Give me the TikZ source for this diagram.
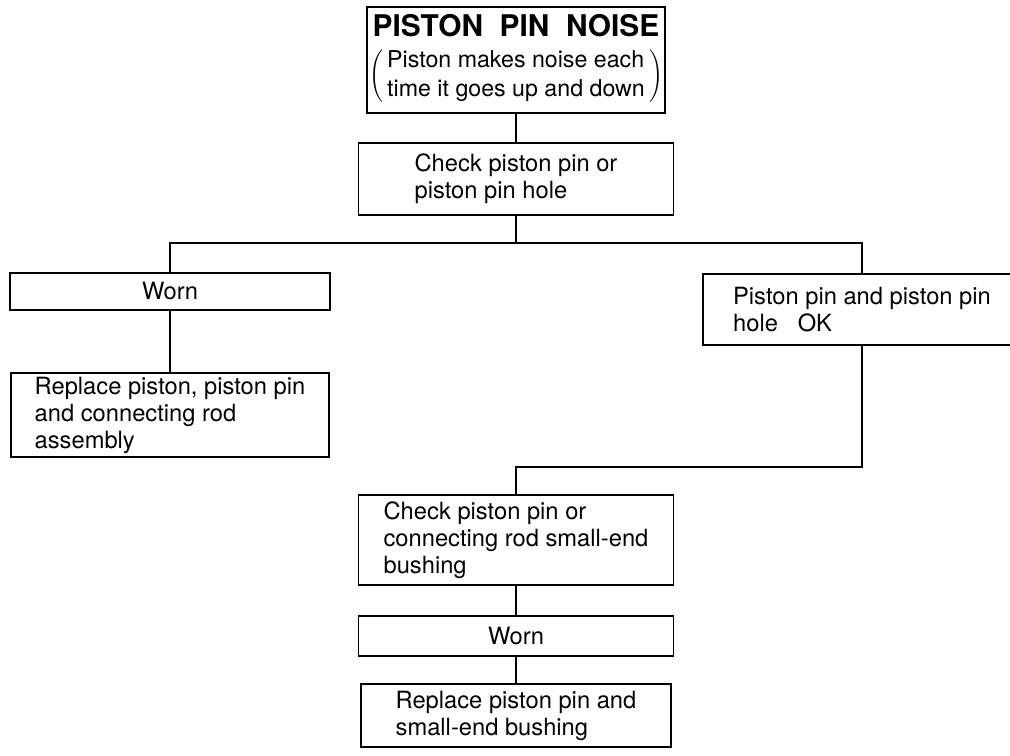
\documentclass[tikz,border=0pt]{standalone}
\usepackage{fontspec}
\setmainfont{TeX Gyre Heros}
\begin{document}
\begin{tikzpicture}[x=0.02cm, y=-0.02cm, line width=0.9pt,
    every node/.style={font=\fontsize{13.5}{15.4}\selectfont},
    box/.style={draw, align=left, inner sep=2pt, minimum width=#1},
    box/.default=6.3cm]
                    \useasboundingbox (0,0) rectangle (1010,755);

                    % Title
                    \node[draw, align=center, minimum width=5.96cm, minimum height=2.12cm, inner sep=0pt] (title) at (516,60)
                        {\textbf{\fontsize{17}{19}\selectfont PISTON\ \ PIN\ \ NOISE}\\[5pt]
                         $\left(\,\vcenter{\hbox{\fontsize{13.2}{16.5}\selectfont\begin{tabular}{@{}l@{}}Piston makes noise each\\ time it goes up and down\end{tabular}}}\,\right)$};

                    % First check
                    \node[box, minimum height=1.44cm] (check1) at (516,179) {Check piston pin or\\piston pin hole};

                    % Two branches
                    \node[box=6.4cm, align=center, minimum height=0.74cm] (worn1) at (170,291.5) {Worn};
                    \node[box=6.36cm, minimum height=1.68cm] (replace1) at (170,415) {Replace piston, piston pin\\and connecting rod\\assembly};
                    \node[box=6.36cm, minimum height=1.42cm] (okbox) at (862,309.5) {Piston pin and piston pin\\hole\ \ \ OK};

                    % Second check
                    \node[box, minimum height=1.8cm] (check2) at (516,540) {Check piston pin or\\connecting rod small-end\\bushing};
                    \node[box, align=center, minimum height=0.8cm] (worn2) at (516,636) {Worn};
                    \node[box=6.2cm, minimum height=1.26cm] (replace2) at (516,715.5) {Replace piston pin and\\small-end bushing};

                    % Connectors
                    \coordinate (split) at (516,243);
                    \coordinate (merge) at (516,467);
                    \draw (title) -- (check1);
                    \draw (check1) -- (split);
                    \draw (worn1.north) |- (split) -| (okbox.north);
                    \draw (worn1) -- (replace1);
                    \draw (okbox.south) |- (merge) -- (check2);
                    \draw (check2) -- (worn2);
                    \draw (worn2) -- (replace2);
                \end{tikzpicture}
\end{document}
